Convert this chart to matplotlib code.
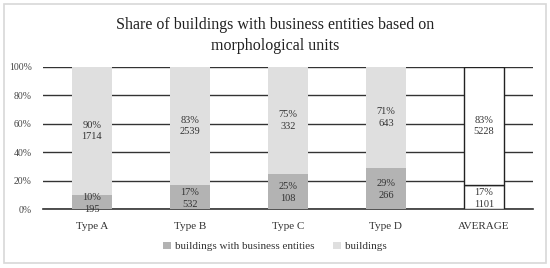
import matplotlib.pyplot as plt
from matplotlib.patches import Rectangle
import numpy as np

categories = ['Type A', 'Type B', 'Type C', 'Type D', 'AVERAGE']
share_business = [10, 17, 25, 29, 17]
share_other = [90, 83, 75, 71, 83]
count_business = [195, 532, 108, 266, 1101]
count_other = [1714, 2539, 332, 643, 5228]

plt.rcParams['font.family'] = ['Liberation Serif', 'DejaVu Serif']

fig = plt.figure(figsize=(5.5, 2.68), dpi=100)
ax = fig.add_axes([0.078, 0.22, 0.891, 0.53])

x = np.arange(len(categories))
dark = '#b3b3b3'
light = '#dfdfdf'
w = 0.4

for i in range(len(categories)):
    if categories[i] == 'AVERAGE':
        ax.bar(x[i], share_business[i], w, color='white', edgecolor='#222222', linewidth=1.0, zorder=3)
        ax.bar(x[i], share_other[i], w, bottom=share_business[i], color='white',
               edgecolor='#222222', linewidth=1.0, zorder=3)
    else:
        ax.bar(x[i], share_business[i], w, color=dark, zorder=3)
        ax.bar(x[i], share_other[i], w, bottom=share_business[i], color=light, zorder=3)
    ax.text(x[i], share_business[i] / 2 - 1, f'{share_business[i]}%\n{count_business[i]}',
            ha='center', va='center', fontsize=7.5, color='#333333', zorder=4, linespacing=1.4)
    ax.text(x[i], share_business[i] + share_other[i] / 2, f'{share_other[i]}%\n{count_other[i]}',
            ha='center', va='center', fontsize=7.5, color='#333333', zorder=4, linespacing=1.4)

# legend handles
ax.bar([0], [0], color=dark, label='buildings with business entities')
ax.bar([0], [0], color=light, label='buildings')

ax.set_xlim(-0.5, len(categories) - 0.5)
ax.set_ylim(0, 100)
ax.set_yticks([0, 20, 40, 60, 80, 100])
ax.set_yticklabels([f'{v}%' for v in [0, 20, 40, 60, 80, 100]], fontsize=7, color='#444444')
ax.set_xticks(x)
ax.set_xticklabels(categories, fontsize=8, color='#333333')
ax.tick_params(length=0, pad=8)
ax.tick_params(axis='x', pad=9)
ax.yaxis.grid(True, color='#333333', linewidth=1.0, zorder=0)
ax.set_axisbelow(True)
for s in ['top', 'right', 'left']:
    ax.spines[s].set_visible(False)
ax.spines['bottom'].set_color('#333333')
ax.spines['bottom'].set_linewidth(1.2)

fig.suptitle('Share of buildings with business entities based on\nmorphological units',
             fontsize=11.5, color='#222222', y=0.935, linespacing=1.35)

fig.legend(loc='lower center', bbox_to_anchor=(0.5, 0.025), ncol=2, frameon=False,
           fontsize=8, handlelength=0.7, handleheight=0.7, handletextpad=0.4,
           columnspacing=1.6, labelcolor='#333333')

fig.patches.append(Rectangle((0.008, 0.02), 0.985, 0.965, transform=fig.transFigure,
                             fill=False, edgecolor='#d8d8d8', linewidth=1.2))

fig.savefig('out.png', dpi=100)
